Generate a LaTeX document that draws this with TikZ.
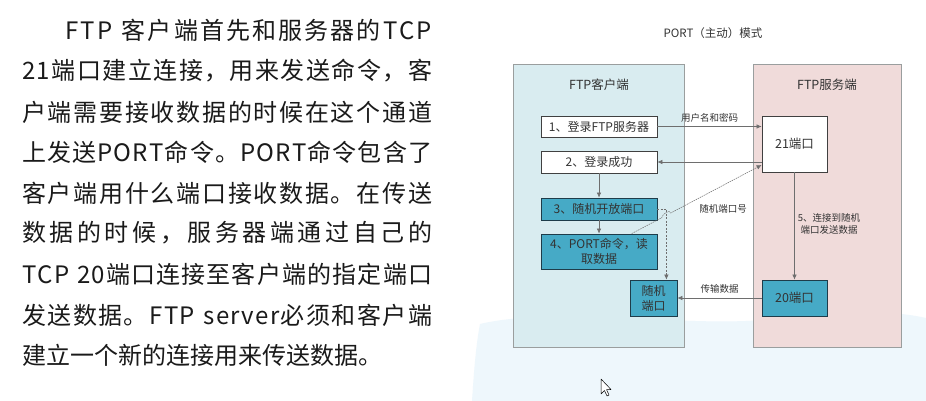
\documentclass[tikz,border=0pt]{standalone}
\usepackage{fontspec}
\usetikzlibrary{arrows.meta,calc}
\setmainfont{Noto Sans CJK SC}
\newfontfamily\bodyfont{Noto Sans CJK SC}
% set a line to a given width, spreading the space evenly between its characters
\makeatletter
\newcommand\spreadline[2]{\hbox to #1{\@tfor\spr@tok:=#2\do{\spr@tok\hskip 0pt plus 1fil}\unskip}}
\makeatother
\definecolor{inkdark}{HTML}{1A1A1A}
\definecolor{diagtext}{HTML}{333333}
\definecolor{clientbg}{HTML}{D9ECF0}
\definecolor{serverbg}{HTML}{F0DBDA}
\definecolor{panelline}{HTML}{9A9E9E}
\definecolor{tealbox}{HTML}{46AAC6}
\definecolor{tealedge}{HTML}{1E3C4A}
\definecolor{wirecol}{HTML}{6E6E6E}
\definecolor{washblue}{HTML}{EEF7FC}
\tikzset{
  para/.style={anchor=west, inner sep=0pt, text=inkdark, font=\bodyfont\fontsize{24}{24}\selectfont},
  panel/.style={draw=panelline, line width=0.8pt},
  paneltitle/.style={text=diagtext, font=\fontsize{12.5}{14}\selectfont},
  whitebox/.style={draw=black!75, fill=white, line width=0.8pt, inner sep=0pt,
    text=diagtext, font=\fontsize{12}{15}\selectfont, align=center},
  tealstep/.style={whitebox, fill=tealbox, draw=tealedge},
  wire/.style={draw=wirecol, line width=0.6pt, -{Latex[length=5pt,width=4.5pt]}},
  dashwire/.style={wire, dash pattern=on 2pt off 1.5pt},
  dotwire/.style={wire, dash pattern=on 1.6pt off 0.8pt, line width=0.5pt},
  wirelabel/.style={text=diagtext, font=\fontsize{9.5}{12}\selectfont, align=center, inner sep=1pt},
}
\begin{document}
\begin{tikzpicture}[x=1pt,y=-1pt]
\useasboundingbox (0,0) rectangle (926,401);
\fill[white] (0,0) rectangle (926,401);

% pale wash of the slide background
\fill[washblue] (480,324) .. controls (560,305) and (700,330) .. (780,318)
  .. controls (850,308) and (900,312) .. (926,318) -- (926,401) -- (472,401)
  .. controls (474,370) and (476,345) .. cycle;

% explanatory paragraph
\node[para] (l1) at (65,30)  {\spreadline{367pt}{FTP~客户端首先和服务器的TCP}};
\node[para] (l2) at (22,71)  {\spreadline{410pt}{21端口建立连接，用来发送命令，客}};
\node[para] (l3) at (22,112) {\spreadline{410pt}{户端需要接收数据的时候在这个通道}};
\node[para] (l4) at (22,152) {\spreadline{410pt}{上发送PORT命令。PORT命令包含了}};
\node[para] (l5) at (22,193) {\spreadline{410pt}{客户端用什么端口接收数据。在传送}};
\node[para] (l6) at (22,233) {\spreadline{410pt}{数据的时候，服务器端通过自己的}};
\node[para] (l7) at (22,274) {\spreadline{410pt}{TCP~20端口连接至客户端的指定端口}};
\node[para] (l8) at (22,315) {\spreadline{410pt}{发送数据。FTP~server必须和客户端}};
\node[para] (l9) at (22,355) {建立一个新的连接用来传送数据。};

% title
\node[text=diagtext, font=\fontsize{11.5}{14}\selectfont] (title) at (713,33) {PORT（主动）模式};

% client and server panels
\filldraw[panel, fill=clientbg] (513,64) rectangle (684,347);
\filldraw[panel, fill=serverbg] (753,64) rectangle (901,347);
\node[paneltitle] (clienttitle) at (599,85) {FTP客户端};
\node[paneltitle] (servertitle) at (827,85) {FTP服务端};

% client steps
\node[whitebox, minimum width=116pt, minimum height=21pt] (b1) at (599,126.5) {1、登录FTP服务器};
\node[whitebox, minimum width=116pt, minimum height=22pt] (b2) at (599,162) {2、登录成功};
\node[tealstep, minimum width=116pt, minimum height=22pt] (b3) at (599,209) {3、随机开放端口};
\node[tealstep, minimum width=116pt, minimum height=35pt] (b4) at (599,251.5) {4、PORT命令，读\\取数据};
\node[tealstep, minimum width=47pt, minimum height=36pt] (rp) at (653.5,298) {随机\\端口};

% server ports
\node[whitebox, minimum width=65pt, minimum height=56pt, font=\fontsize{12.5}{15}\selectfont] (p21) at (794.5,144) {21端口};
\node[tealstep, minimum width=65pt, minimum height=36pt, font=\fontsize{12.5}{15}\selectfont] (p20) at (794.5,298) {20端口};

% control connection
\draw[wire] (b1.east) -- (b1.east -| p21.west)
  node[wirelabel, midway, above=3pt] (lbl1) {用户名和密码};
\draw[wire] (b2.east -| p21.west) -- (b2.east);
\draw[wire] (b2.south) -- (b3.north);
\draw[wire] (b3.south) -- (b4.north);

% random port opened locally
\coordinate (dtop) at ($(rp.north west)!0.77!(rp.north east)$);
\coordinate (dcorner) at (b3.east -| dtop);
\draw[dashwire] (b3.east) -- (dcorner) -- (dtop);

% PORT command carrying the port number, hopping over the dashed line
\coordinate (ds) at ($(b4.north west)!0.78!(b4.north east)$);
\coordinate (de) at ($(p21.south west)!0.13!(p21.north west)$);
\coordinate (h1) at ($(ds)!0.23!(de)$);
\coordinate (h2) at ($(ds)!0.30!(de)$);
\draw[dotwire] (ds) -- (h1) .. controls ($(h1)+(1,-4)$) and ($(h2)+(-1,-4)$) .. (h2) -- (de);
\node[wirelabel] (lbl2) at (723,209) {随机端口号};

% data connection
\draw[wire] (p21.south) -- (p20.north);
\node[wirelabel] (lbl3) at (829,224) {5、连接到随机\\端口发送数据};
\draw[wire] (p20.west) -- (rp.east)
  node[wirelabel, midway, above=3pt] (lbl4) {传输数据};

% mouse pointer
\filldraw[fill=white, draw=black, line width=0.5pt, line join=round]
  (601,379) -- (601,394) -- (604.5,390.5) -- (607,396) -- (609,395)
  -- (606.5,389.5) -- (611,389.5) -- cycle;
\end{tikzpicture}
\end{document}
